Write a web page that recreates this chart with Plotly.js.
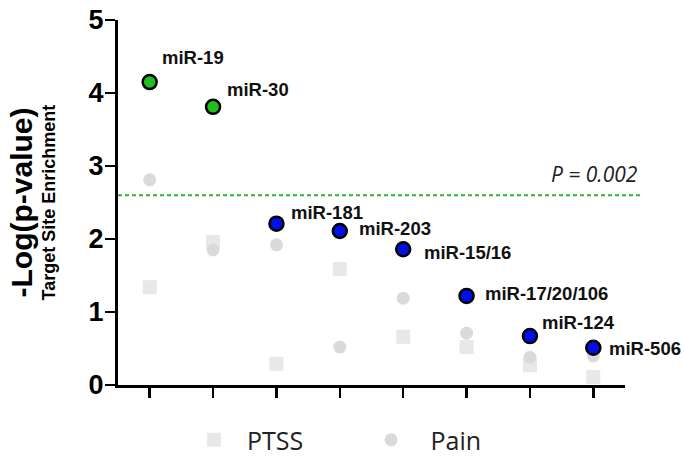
<!DOCTYPE html>
<html>
<head>
<meta charset="utf-8">
<script src="https://cdn.plot.ly/plotly-3.0.1.min.js"></script>
<style>
  html, body { margin: 0; padding: 0; background: #fff; }
  #chart { width: 685px; height: 460px; }
</style>
</head>
<body>
<div id="chart"></div>
<script>
// miRNA families, ordered by enrichment
const mirnas = ["miR-19", "miR-30", "miR-181", "miR-203", "miR-15/16", "miR-17/20/106", "miR-124", "miR-506"];
// -log(p) for the combined set (coloured markers)
const enrichment = [4.15, 3.81, 2.21, 2.11, 1.86, 1.22, 0.67, 0.51];
// which combined points pass the threshold (green) vs not (blue)
const significant = [true, true, false, false, false, false, false, false];
// -log(p) for the individual sets
const ptss = [1.34, 1.96, 0.29, 1.59, 0.66, 0.52, 0.27, 0.11];
const pain = [2.81, 1.85, 1.92, 0.52, 1.19, 0.71, 0.38, 0.40];
// significance cut-off line
const threshold = 2.6;
const thresholdLabel = "P = 0.002";
const yTicks = [0, 1, 2, 3, 4, 5];

// label offsets (px) from each coloured point
const labelDx = [10, 12, 13, 17, 19, 16, 10, 14];
const labelDy = [25, 17, 11, 2, -3, 2, 14, -1];

const boldFont = 'Arial, "Liberation Sans", sans-serif';
const legendFont = '"Open Sans", "Noto Sans", sans-serif';

const W = 685, H = 460;
const plotLeft = 118, plotWidth = 507;

const traces = [
  {
    x: mirnas, y: ptss, name: "\u00a0\u00a0PTSS", type: "scatter", mode: "markers",
    marker: { symbol: "square", size: 14, color: "#e8e8e8" },
    legend: "legend", hoverinfo: "skip"
  },
  {
    x: mirnas, y: pain, name: "\u00a0\u00a0\u00a0Pain", type: "scatter", mode: "markers",
    marker: { symbol: "circle", size: 13, color: "#dadada" },
    legend: "legend2", hoverinfo: "skip"
  },
  {
    x: mirnas, y: enrichment, type: "scatter", mode: "markers", showlegend: false,
    marker: {
      symbol: "circle", size: 14,
      color: significant.map(s => s ? "#1fbf1f" : "#0010e8"),
      line: { color: "#000", width: 2.5 }
    },
    hoverinfo: "skip"
  }
];

const annotations = mirnas.map((m, i) => ({
  x: m, y: enrichment[i], xref: "x", yref: "y",
  text: m, showarrow: false,
  xanchor: "left", yanchor: "middle",
  xshift: labelDx[i], yshift: labelDy[i],
  font: { family: boldFont, size: 18.5, color: "#111", weight: "bold" }
}));

annotations.push({
  x: 1.03, xref: "paper", y: threshold, yref: "y",
  text: "<i>" + thresholdLabel + "</i>", showarrow: false,
  xanchor: "right", yanchor: "bottom", yshift: 5,
  font: { family: legendFont, size: 21, color: "#222" }
});

// axis title: main line plus smaller subtitle
annotations.push({
  x: (21 - plotLeft) / plotWidth, xref: "paper", xanchor: "center", y: 0.5, yref: "paper",
  text: "<b>-Log(p-value)</b>", showarrow: false, textangle: -90,
  font: { family: boldFont, size: 30, color: "#000" }
});
annotations.push({
  x: (48 - plotLeft) / plotWidth, xref: "paper", xanchor: "center", y: 0.5, yref: "paper",
  text: "<b>Target Site Enrichment</b>", showarrow: false, textangle: -90,
  font: { family: boldFont, size: 18, color: "#000" }
});

const legendBase = {
  orientation: "h", xref: "container", yref: "container",
  xanchor: "left", y: 1 - 440 / H, yanchor: "middle",
  font: { family: legendFont, size: 25, color: "#222" },
  bgcolor: "rgba(0,0,0,0)"
};

const layout = {
  width: W, height: H,
  margin: { l: 118, r: 60, t: 20, b: 75 },
  paper_bgcolor: "#fff", plot_bgcolor: "#fff",
  showlegend: true,
  xaxis: {
    type: "category", categoryorder: "array", categoryarray: mirnas,
    range: [-0.5, 7.5], showticklabels: false,
    showgrid: false, zeroline: false,
    showline: true, linecolor: "#000", linewidth: 3,
    ticks: "outside", ticklen: 10, tickwidth: 2.5, tickcolor: "#000"
  },
  yaxis: {
    range: [0, 5], tickvals: yTicks, ticktext: yTicks.map(String),
    showgrid: false, zeroline: false,
    showline: true, linecolor: "#000", linewidth: 3,
    ticks: "outside", ticklen: 10, tickwidth: 2.5, tickcolor: "#000",
    tickfont: { family: boldFont, size: 27, color: "#000", weight: "bold" },
    ticklabelstandoff: -4
  },
  shapes: [{
    type: "line", xref: "paper", yref: "y",
    x0: 0, x1: 1.03, y0: threshold, y1: threshold,
    line: { color: "#2ab52a", width: 2, dash: "4px,3px" }
  }],
  annotations: annotations,
  legend: Object.assign({}, legendBase, { x: 194 / W }),
  legend2: Object.assign({}, legendBase, { x: 371 / W })
};

Plotly.newPlot("chart", traces, layout, { staticPlot: true, displayModeBar: false });
</script>
</body>
</html>
